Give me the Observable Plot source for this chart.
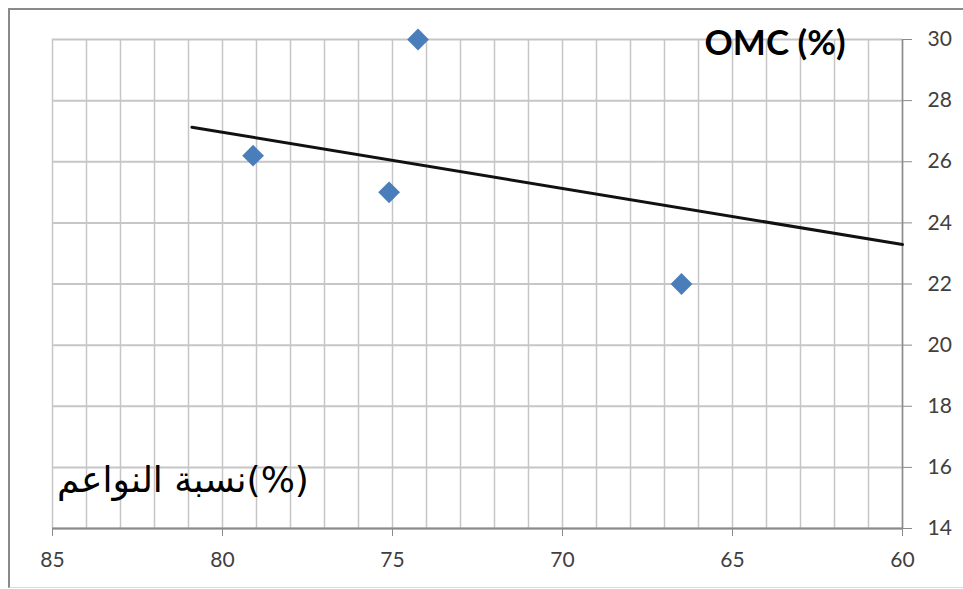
<!DOCTYPE html>
<html><head><meta charset="utf-8">
<script src="https://cdn.jsdelivr.net/npm/d3@7"></script>
<script src="https://cdn.jsdelivr.net/npm/@observablehq/plot@0.6"></script>
<style>
body{margin:0;background:#fff;}
#wrap{position:relative;width:963px;height:589px;overflow:hidden;}
#wrap svg{position:absolute;left:0;top:0;}
#frame{position:absolute;left:8px;top:8px;width:1000px;height:577px;border-left:2px solid #8a8a8a;border-top:2px solid #8a8a8a;border-bottom:1px solid #dadada;pointer-events:none;}
#xtitle{position:absolute;left:57px;top:459px;font-family:"DejaVu Sans",sans-serif;font-size:36px;color:#000;white-space:nowrap;}
</style></head>
<body><div id="wrap"><div id="frame"></div><div id="xtitle" dir="rtl"></div></div>
<script>
const fineness = [79.1, 75.1, 74.25, 66.5];
const omc = [26.2, 25.0, 30.0, 22.0];
const trendX = [80.9, 60];
const trendY = [27.13, 23.29];
const xTicks = [85, 80, 75, 70, 65, 60];
const yTicks = [14, 16, 18, 20, 22, 24, 26, 28, 30];
const xGrid = d3.range(60, 86, 1);
const yTitle = "OMC (%)";
const xTitle = "(%)نسبة النواعم";

const points = fineness.map((x, i) => ({x, y: omc[i]}));
const trend = trendX.map((x, i) => ({x, y: trendY[i]}));

const gridColor = "#c6c6c6";
const axisColor = "#8a8a8a";

const chart = Plot.plot({
  width: 963,
  height: 589,
  marginLeft: 52,
  marginRight: 61,
  marginTop: 39,
  marginBottom: 61,
  style: {fontFamily: "Lato, 'Open Sans', sans-serif", fontSize: "21px", background: "transparent", overflow: "visible"},
  x: {domain: [85, 60], label: null},
  y: {domain: [14, 30], label: null},
  marks: [
    Plot.gridX(xGrid, {stroke: gridColor, strokeOpacity: 1, strokeWidth: 1.5}),
    Plot.gridY(yTicks, {stroke: gridColor, strokeOpacity: 1, strokeWidth: 2}),
    Plot.ruleX([60], {stroke: axisColor, strokeWidth: 1.5}),
    Plot.ruleY([14], {stroke: axisColor, strokeWidth: 2}),
    Plot.axisX({ticks: xTicks, tickSize: 8, tickPadding: 16, stroke: axisColor, fill: "#404040", label: null}),
    Plot.axisY({anchor: "right", ticks: yTicks, tickSize: 9, tickPadding: 16, stroke: axisColor, fill: "#404040", label: null}),
    Plot.line(trend, {x: "x", y: "y", stroke: "#111", strokeWidth: 3}),
    Plot.dot(points, {x: "x", y: "y", symbol: "diamond2", r: 9.8, fill: "#4a7ebb", stroke: "none"}),
    Plot.text([yTitle], {frameAnchor: "top-right", dx: -57, dy: -9, textAnchor: "end", lineAnchor: "top", fontSize: 35, fontWeight: "bold", fill: "#000", style: "word-spacing:6px"})
  ]
});
document.getElementById("wrap").prepend(chart);
document.getElementById("xtitle").textContent = xTitle;
</script>
</body></html>
